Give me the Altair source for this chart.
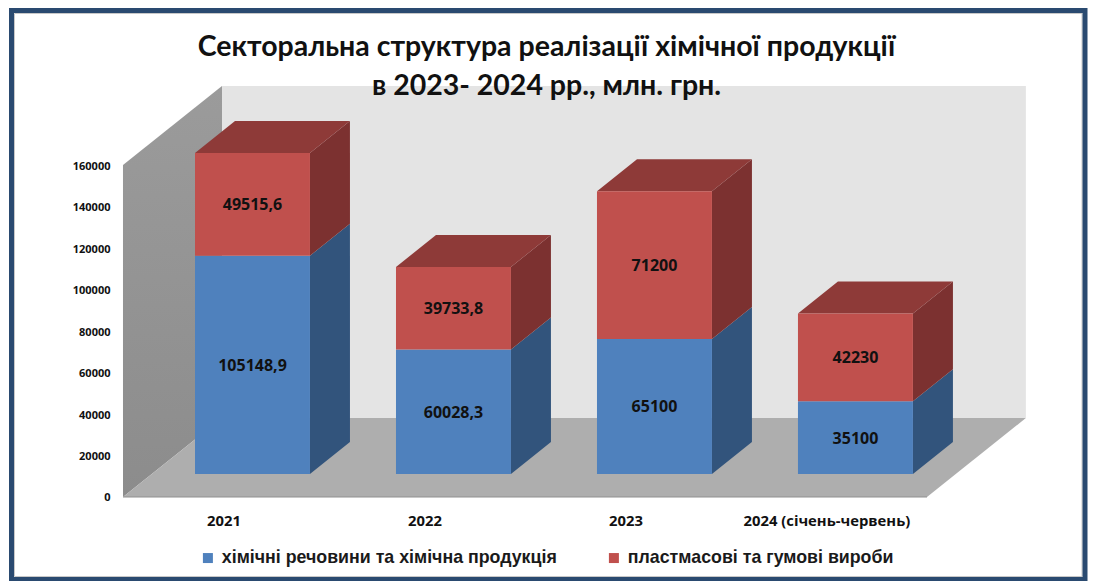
import altair as alt
import pandas as pd

categories = ["2021", "2022", "2023", "2024 (січень-червень)"]
series_names = ["хімічні речовини та хімічна продукція", "пластмасові та гумові вироби"]
chem = [105148.9, 60028.3, 65100, 35100]
plast = [49515.6, 39733.8, 71200, 42230]
chem_labels = ["105148,9", "60028,3", "65100", "35100"]
plast_labels = ["49515,6", "39733,8", "71200", "42230"]
y_ticks = [0, 20000, 40000, 60000, 80000, 100000, 120000, 140000, 160000]
title_lines = ["Секторальна структура реалізації хімічної  продукції", "в 2023- 2024 рр., млн. грн."]

# 3-D projection, in scale units
HALF = 0.286
DX = 0.199
DY = 15422
BASE = 11084
WX0, WDX, WDY, WTOP = -0.6443, 0.4925, 38072, 160000
FX1 = 3.356
FX2 = 3.848
LABEL_SHIFT = -0.142
CAT_Y = -12048

x_scale = alt.Scale(domain=[-1.2164, 4.157], nice=False, zero=False)
y_scale = alt.Scale(domain=[-40482, 235663], nice=False, zero=False)
y_axis = alt.Axis(values=y_ticks, orient="left", offset=-115, domain=False, ticks=False, grid=False, title=None,
                  labelPadding=13, labelOffset=1, labelFont="Open Sans", labelFontWeight="bold", labelFontSize=11,
                  labelColor="#111111", format="d")
X = lambda f="x": alt.X(f"{f}:Q", scale=x_scale, axis=None)
Y = lambda f="y": alt.Y(f"{f}:Q", scale=y_scale, axis=y_axis)

rows = []
for i in range(4):
    b0 = BASE
    b1 = BASE + chem[i]
    b2 = b1 + plast[i]
    rows.append(dict(i=i, cat=categories[i], xc=i, x=i - HALF, x2=i + HALF, xr=i + HALF + DX, b0=b0, b1=b1, b2=b2,
                     lc=chem_labels[i], lp=plast_labels[i], ym1=(b0 + b1) / 2, ym2=(b1 + b2) / 2))
bars = pd.DataFrame(rows)

front = pd.concat([
    pd.DataFrame(dict(x=bars.x, x2=bars.x2, y=bars.b0, y2=bars.b1, s=series_names[0])),
    pd.DataFrame(dict(x=bars.x, x2=bars.x2, y=bars.b1, y2=bars.b2, s=series_names[1])),
])

def side(lo, hi):
    out = []
    for _, r in bars.iterrows():
        out.append(dict(g=r.i, x=r.x2, y=r[lo], y2=r[hi]))
        out.append(dict(g=r.i, x=r.xr, y=r[lo] + DY, y2=r[hi] + DY))
    return pd.DataFrame(out)

tops = []
for _, r in bars.iterrows():
    tops.append(dict(g=r.i, y=r.b2, x=r.x, x2=r.x2))
    tops.append(dict(g=r.i, y=r.b2 + DY, x=r.x + DX, x2=r.x2 + DX))
tops = pd.DataFrame(tops)

back = alt.Chart(pd.DataFrame([dict(x=WX0 + WDX, x2=FX2, y=WDY, y2=WTOP + WDY)])).mark_rect(color="#e4e4e4").encode(
    x=X(), x2="x2:Q", y=Y(), y2="y2:Q")

left = alt.Chart(pd.DataFrame([dict(x=WX0, y=0, y2=WTOP), dict(x=WX0 + WDX, y=WDY, y2=WTOP + WDY)])).mark_area(
    color=alt.Gradient(gradient="linear", stops=[alt.GradientStop(color="#9b9b9b", offset=0), alt.GradientStop(color="#8c8c8c", offset=1)],
                       x1=0, x2=0, y1=0, y2=1)).encode(x=X(), y=Y(), y2="y2:Q")

floor = alt.Chart(pd.DataFrame([dict(y=0, x=WX0, x2=FX1), dict(y=WDY, x=WX0 + WDX, x2=FX2)])).mark_area(
    orient="horizontal", color="#aeaeae").encode(y=Y(), x=X(), x2="x2:Q")

floor_edge = alt.Chart(pd.DataFrame([dict(y=0, x=WX0, x2=FX1)])).mark_rule(color="#8f8f8f", strokeWidth=1.2).encode(
    x=X(), x2="x2:Q", y=Y())

blue_side = alt.Chart(side("b0", "b1")).mark_area(color="#32547c").encode(x=X(), y=Y(), y2="y2:Q", detail="g:N")
red_side = alt.Chart(side("b1", "b2")).mark_area(color="#7c3130").encode(x=X(), y=Y(), y2="y2:Q", detail="g:N")
red_top = alt.Chart(tops).mark_area(orient="horizontal", color="#8e3a38").encode(y=Y(), x=X(), x2="x2:Q", detail="g:N")

fronts = alt.Chart(front).mark_rect().encode(
    x=X(), x2="x2:Q", y=Y(), y2="y2:Q",
    color=alt.Color("s:N", scale=alt.Scale(domain=series_names, range=["#4f81bd", "#c0504d"]),
                    legend=alt.Legend(orient="none", legendX=191, legendY=541, direction="horizontal", columns=2, title=None,
                                      symbolType="square", symbolSize=100, symbolStrokeWidth=0, labelFont="Liberation Sans",
                                      labelFontSize=17.8, labelFontWeight="bold", labelColor="#1a1a1a", labelLimit=600,
                                      labelOffset=5, columnPadding=48, padding=0)))

FONT = "Open Sans"
t_chem = alt.Chart(bars).mark_text(font=FONT, fontWeight="bold", fontSize=16, dy=1, color="#111111").encode(x=X("xc"), y=Y("ym1"), text="lc:N")
t_plast = alt.Chart(bars).mark_text(font=FONT, fontWeight="bold", fontSize=16, dy=1, color="#111111").encode(x=X("xc"), y=Y("ym2"), text="lp:N")

cat_df = pd.DataFrame(dict(x=[i + LABEL_SHIFT for i in range(4)], y=[CAT_Y] * 4, cat=categories))
t_cat = alt.Chart(cat_df).mark_text(font=FONT, fontWeight="bold", fontSize=14.8, color="#111111").encode(x=X(), y=Y(), text="cat:N")

title_df = pd.DataFrame(dict(t=title_lines, py=[39, 78]))
t_title = alt.Chart(title_df).mark_text(font="Lato", fontWeight="bold", fontSize=28.5, color="#111111").encode(
    x=alt.value(538.5), y=alt.Y("py:Q", scale=None), text="t:N")

frame = alt.Chart(pd.DataFrame([dict(a=1)])).mark_rect(fill=None, stroke="#2a4a70", strokeWidth=5).encode(
    x=alt.value(3.5), x2=alt.value(1077), y=alt.value(2.5), y2=alt.value(571.5))
frame_inner = alt.Chart(pd.DataFrame([dict(a=1)])).mark_rect(fill=None, stroke="#c8c8c8", strokeWidth=1).encode(
    x=alt.value(6.5), x2=alt.value(1074), y=alt.value(5.5), y2=alt.value(568.5))

chart = alt.layer(back, left, floor, floor_edge, blue_side, red_side, red_top, fronts, t_chem, t_plast, t_cat, t_title, frame_inner, frame).properties(
    width=1080, height=573, padding=0, autosize=alt.AutoSizeParams(type="none"), background="white"
).configure_view(stroke=None)

chart.save("out.html", embed_options={"renderer": "svg", "actions": False})
